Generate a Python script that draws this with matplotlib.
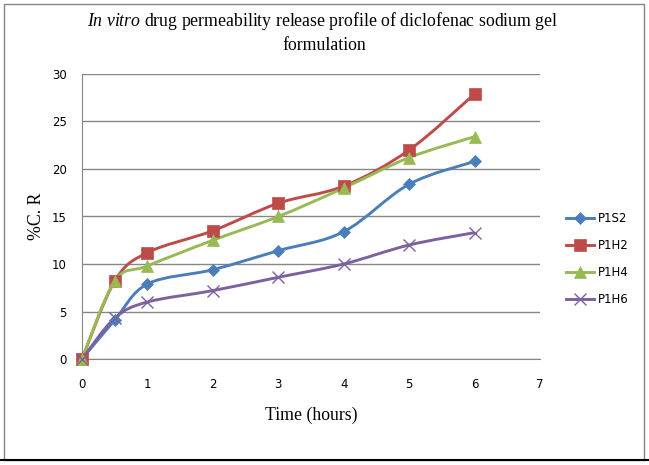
import numpy as np
import matplotlib
matplotlib.use("Agg")
import matplotlib.pyplot as plt
from matplotlib.path import Path
from matplotlib.patches import PathPatch, Rectangle
from matplotlib.lines import Line2D

# data
time_h = [0, 0.5, 1, 2, 3, 4, 5, 6]
p1s2 = [0, 4.1, 7.9, 9.4, 11.4, 13.4, 18.4, 20.8]
p1h2 = [0, 8.2, 11.2, 13.5, 16.4, 18.2, 22.0, 27.9]
p1h4 = [0, 8.2, 9.8, 12.5, 15.0, 18.0, 21.2, 23.4]
p1h6 = [0, 4.3, 6.0, 7.2, 8.6, 10.0, 12.0, 13.3]

names = ["P1S2", "P1H2", "P1H4", "P1H6"]
series = [p1s2, p1h2, p1h4, p1h6]
colors = ["#4A7EBB", "#BE4B48", "#98B954", "#7D60A0"]
markers = ["D", "s", "^", "x"]
msizes = [6, 8, 8, 8]

serif = ["Liberation Serif", "DejaVu Serif"]
sans = ["DejaVu Sans"]

plt.rcParams["mathtext.fontset"] = "custom"
plt.rcParams["mathtext.it"] = "Liberation Serif:italic"
plt.rcParams["mathtext.rm"] = "Liberation Serif"


def smooth_path(x, y):
    # excel-like smoothed line: cubic bezier through every point
    pts = np.column_stack([x, y]).astype(float)
    n = len(pts)
    verts = [pts[0]]
    codes = [Path.MOVETO]
    for i in range(n - 1):
        p0 = pts[i - 1] if i > 0 else pts[i]
        p1 = pts[i]
        p2 = pts[i + 1]
        p3 = pts[i + 2] if i + 2 < n else pts[i + 1]
        c1 = p1 + (p2 - p0) / 6.0
        c2 = p2 - (p3 - p1) / 6.0
        verts += [c1, c2, p2]
        codes += [Path.CURVE4] * 3
    return Path(verts, codes)


fig = plt.figure(figsize=(6.49, 4.65), dpi=100)
ax = fig.add_axes([82 / 649, 1 - 359 / 465, (540 - 82) / 649, (359 - 74) / 465])

handles = []
for name, vals, c, m, ms in zip(names, series, colors, markers, msizes):
    patch = PathPatch(smooth_path(time_h, vals), facecolor="none", edgecolor=c,
                      lw=2.1, transform=ax.transData, zorder=3, clip_on=False)
    ax.add_patch(patch)
    mew = 1.0 if m == "x" else 0.5
    ax.plot(time_h, vals, linestyle="none", marker=m, color=c, ms=ms, mew=mew,
            zorder=4, clip_on=False)
    handles.append(Line2D([], [], color=c, lw=2.1, marker=m, ms=ms, mew=mew))

ax.set_xlim(0, 7)
ax.set_ylim(0, 30)
ax.set_xticks(range(0, 8))
ax.set_yticks(range(0, 31, 5))
ax.grid(axis="y", color="#868686", lw=1.0)
ax.set_axisbelow(True)
for s in ["top", "right"]:
    ax.spines[s].set_visible(False)
ax.spines["left"].set_color("#868686")
ax.spines["bottom"].set_color("#868686")
ax.tick_params(length=0, labelsize=8.5, pad=14)
ax.tick_params(axis="y", pad=11)
for lab in ax.get_xticklabels() + ax.get_yticklabels():
    lab.set_family(sans)

ax.set_xlabel("Time (hours)", family=serif, fontsize=12.8, labelpad=11)
ax.set_ylabel("%C. R", family=serif, fontsize=12.8, labelpad=5)

fig.text(323 / 649, 1 - 21 / 465,
         r"$\mathit{In\ vitro}$ drug permeability release profile of diclofenac sodium gel",
         family=serif, fontsize=12.8, ha="center", va="center")
fig.text(324 / 649, 1 - 46 / 465, "formulation", family=serif, fontsize=12.8,
         ha="center", va="center")

fig.legend(handles, names, loc="upper left", bbox_to_anchor=(561 / 649, 1 - 207 / 465),
           frameon=False, prop={"family": sans, "size": 8.5}, handlelength=2.4,
           labelspacing=1.2, handletextpad=0.3, borderaxespad=0)

# chart frame
fig.patches.append(Rectangle((4 / 649, 1 - 460 / 465), 640 / 649, 456 / 465,
                             transform=fig.transFigure, fill=False,
                             edgecolor="#868686", lw=1.0))
fig.lines.append(Line2D([0, 1], [1 - 460 / 465, 1 - 460 / 465],
                        transform=fig.transFigure, color="black", lw=1.5))

fig.savefig("out.png", dpi=100)
